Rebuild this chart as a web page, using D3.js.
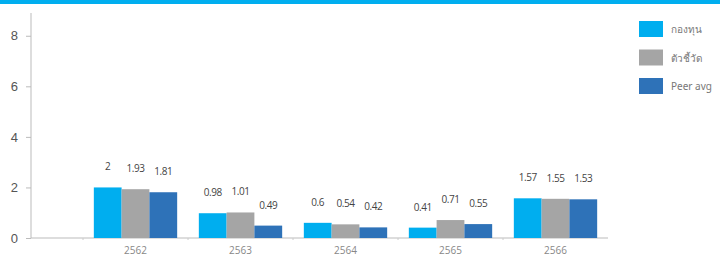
<html>
<head>
<meta charset="utf-8">
<title>Bar chart</title>
<script src="https://d3js.org/d3.v7.min.js"></script>
<style type="text/css">
body{ margin:0; background:#fff; }
.tick text{ fill:#555; }
.y-axis text{ font-family:"Liberation Sans",Arial,sans-serif; font-size:13px; fill:#555; }
.x-axis text{ font-family:"Open Sans",sans-serif; font-size:10px; fill:#888; }
.domain, .tick line{ stroke:#bbb; }
.val{ font-family:"Open Sans",sans-serif; font-size:10px; letter-spacing:-0.4px; fill:#444; text-anchor:middle; }
.leg{ font-family:"Noto Sans","Open Sans",sans-serif; font-size:10px; fill:#777; }
</style>
</head>
<body>
<script>
var years = ['2562','2563','2564','2565','2566'];
var seriesNames = ['กองทุน','ตัวชี้วัด','Peer avg'];
var fund = [2, 0.98, 0.6, 0.41, 1.57];
var indicator = [1.93, 1.01, 0.54, 0.71, 1.55];
var peer = [1.81, 0.49, 0.42, 0.55, 1.53];
var yTicks = [0, 2, 4, 6, 8];
var colors = ['#00aeef', '#a5a5a5', '#2e72b8'];

var series = [fund, indicator, peer];

var svg = d3.select('body').append('svg').attr('width', 720).attr('height', 259);

svg.append('rect').attr('x', 0).attr('y', 0).attr('width', 720).attr('height', 4).attr('fill', '#00aeef');

var y = d3.scaleLinear().domain([0, 8.9]).range([238, 13]);
var x = d3.scaleBand().domain(years).range([83, 608]);
var inner = d3.scaleBand().domain(d3.range(3)).range([0, x.bandwidth()]).paddingOuter(0.39);

// y axis
var ya = svg.append('g').attr('class', 'y-axis').attr('transform', 'translate(31,0)')
	.call(d3.axisLeft(y).tickValues(yTicks).tickSize(5).tickPadding(8));
ya.select('.domain').attr('d', 'M0,' + y(8.9) + 'V' + y(0));

// x axis
var xa = svg.append('g').attr('class', 'x-axis').attr('transform', 'translate(0,' + y(0) + ')')
	.call(d3.axisBottom(x).tickSize(0).tickPadding(9));
xa.select('.domain').attr('d', 'M31,0H608');
svg.append('g').selectAll('line').data(years).enter().append('line')
	.attr('x1', function(d){ return x(d); }).attr('x2', function(d){ return x(d); })
	.attr('y1', y(0)).attr('y2', y(0) + 2).attr('stroke', '#ccc');

var groups = svg.selectAll('.grp').data(years).enter().append('g')
	.attr('class', 'grp')
	.attr('transform', function(d){ return 'translate(' + x(d) + ',0)'; });

groups.selectAll('rect')
	.data(function(d, i){ return series.map(function(s, j){ return {v:s[i], j:j}; }); })
	.enter().append('rect')
	.attr('x', function(d){ return inner(d.j); })
	.attr('width', inner.bandwidth())
	.attr('y', function(d){ return y(d.v); })
	.attr('height', function(d){ return y(0) - y(d.v); })
	.attr('fill', function(d){ return colors[d.j]; });

groups.selectAll('.val')
	.data(function(d, i){ return series.map(function(s, j){ return {v:s[i], j:j}; }); })
	.enter().append('text')
	.attr('class', 'val')
	.attr('x', function(d){ return inner(d.j) + inner.bandwidth() / 2; })
	.attr('y', function(d){ return y(d.v) - 17; })
	.text(function(d){ return d.v; });

// legend
var leg = svg.append('g').attr('transform', 'translate(639,21)');
var li = leg.selectAll('g').data(seriesNames).enter().append('g')
	.attr('transform', function(d, i){ return 'translate(0,' + (i * 28.5) + ')'; });
li.append('rect').attr('width', 24).attr('height', 16).attr('fill', function(d, i){ return colors[i]; });
li.append('text').attr('class', 'leg').attr('x', 32).attr('y', 12).text(function(d){ return d; });
</script>
</body>
</html>
